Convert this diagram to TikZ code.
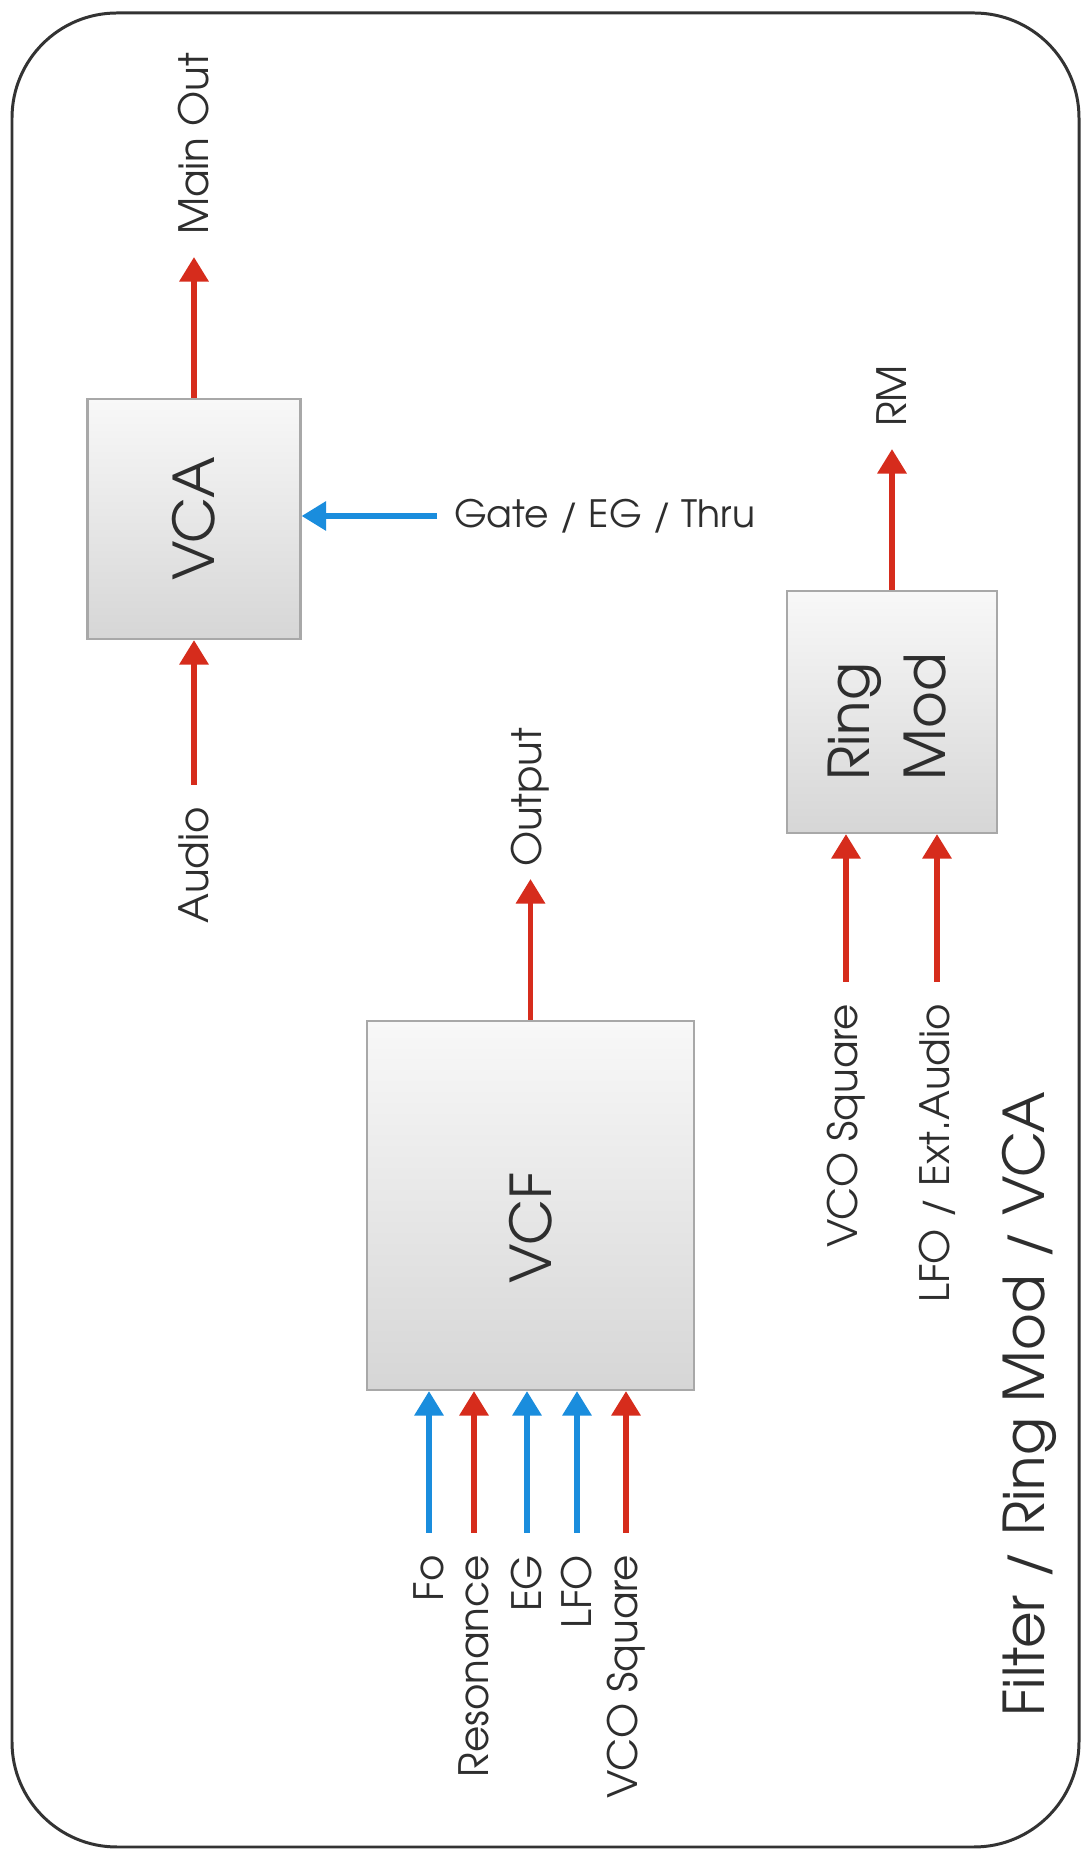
\documentclass[tikz,border=0pt]{standalone}
\usepackage{fontspec}
\setmainfont{texgyreadventor-regular.otf}
\usetikzlibrary{arrows.meta}
\definecolor{Canvas}{HTML}{FFFFFF}
\definecolor{FrameLine}{HTML}{333333}
\definecolor{BoxTop}{HTML}{F8F8F8}
\definecolor{BoxBottom}{HTML}{D6D6D6}
\definecolor{BoxLine}{HTML}{A8A8A8}
\definecolor{AudioRed}{HTML}{D62C1C}
\definecolor{ControlBlue}{HTML}{1A8DDD}
\definecolor{TextColor}{HTML}{2E2E2E}

\begin{document}
\begin{tikzpicture}[
    module/.style={rectangle, draw=BoxLine, top color=BoxTop, bottom color=BoxBottom, line width=0.6pt, font=\fontsize{16}{21.6}\selectfont, text=TextColor, inner sep=0pt},
    portlabel/.style={rotate=90, font=\fontsize{11.5}{14}\selectfont, text=TextColor, inner sep=0pt, outer sep=0.22cm},
    sidelabel/.style={font=\fontsize{10.7}{14}\selectfont, text=TextColor, inner sep=0pt, outer sep=0.17cm},
    titlelabel/.style={rotate=90, font=\fontsize{16}{20}\selectfont, text=TextColor, inner sep=0pt},
    audioarrow/.style={draw=AudioRed, line width=1.7pt, -{Triangle[length=7pt,width=8pt]}},
    controlarrow/.style={draw=ControlBlue, line width=1.7pt, -{Triangle[length=7pt,width=8pt]}}
]

\fill[Canvas] (0,0) rectangle (10.83,18.50);
\draw[FrameLine, line width=0.85pt, rounded corners=1.05cm] (0.12,0.03) rectangle (10.79,18.37);

\node[module, minimum width=2.13cm, minimum height=2.40cm] (vca) at (1.94,13.31) {\rotatebox{90}{VCA}};
\node[module, minimum width=3.27cm, minimum height=3.69cm] (vcf) at (5.305,6.445) {\rotatebox{90}{\hspace*{-0.45cm}VCF}};
\node[module, minimum width=2.10cm, minimum height=2.42cm] (ringmod) at (8.92,11.38)
      {\rotatebox{90}{\hspace*{-0.1cm}\begin{tabular}{@{}l@{}}Ring\\Mod\end{tabular}}};

\node[portlabel, anchor=west] (mainout) at (1.94,15.93) {Main Out};
\node[portlabel, anchor=east] (audio) at (1.94,10.65) {Audio};
\node[sidelabel, anchor=west] (gate) at (4.37,13.34) {Gate / EG / Thru};
\node[portlabel, anchor=west, outer sep=0.12cm] (output) at (5.305,9.71) {Output};
\node[portlabel, anchor=west] (rm) at (8.92,14.01) {RM};

\node[portlabel, anchor=east] (fo) at (4.29,3.17) {Fo};
\node[portlabel, anchor=east] (reso) at (4.74,3.17) {Resonance};
\node[portlabel, anchor=east] (eg) at (5.27,3.17) {EG};
\node[portlabel, anchor=east] (lfo) at (5.77,3.17) {LFO};
\node[portlabel, anchor=east] (vcfsq) at (6.26,3.17) {VCO Square};

\node[portlabel, anchor=east] (rmsq) at (8.46,8.68) {VCO Square};
\node[portlabel, anchor=east] (rmext) at (9.37,8.68) {LFO / Ext.Audio};

\node[titlelabel, anchor=west] (title) at (10.29,1.33) {Filter / Ring Mod / VCA};

\draw[audioarrow] (vca) -- (mainout);
\draw[audioarrow] (audio) -- (vca);
\draw[controlarrow] (gate) -- (gate -| vca.east);

\draw[audioarrow] (vcf) -- (output);
\draw[controlarrow] (fo) -- (fo |- vcf.south);
\draw[audioarrow] (reso) -- (reso |- vcf.south);
\draw[controlarrow] (eg) -- (eg |- vcf.south);
\draw[controlarrow] (lfo) -- (lfo |- vcf.south);
\draw[audioarrow] (vcfsq) -- (vcfsq |- vcf.south);

\draw[audioarrow] (ringmod) -- (rm);
\draw[audioarrow] (rmsq) -- (rmsq |- ringmod.south);
\draw[audioarrow] (rmext) -- (rmext |- ringmod.south);

\end{tikzpicture}
\end{document}
